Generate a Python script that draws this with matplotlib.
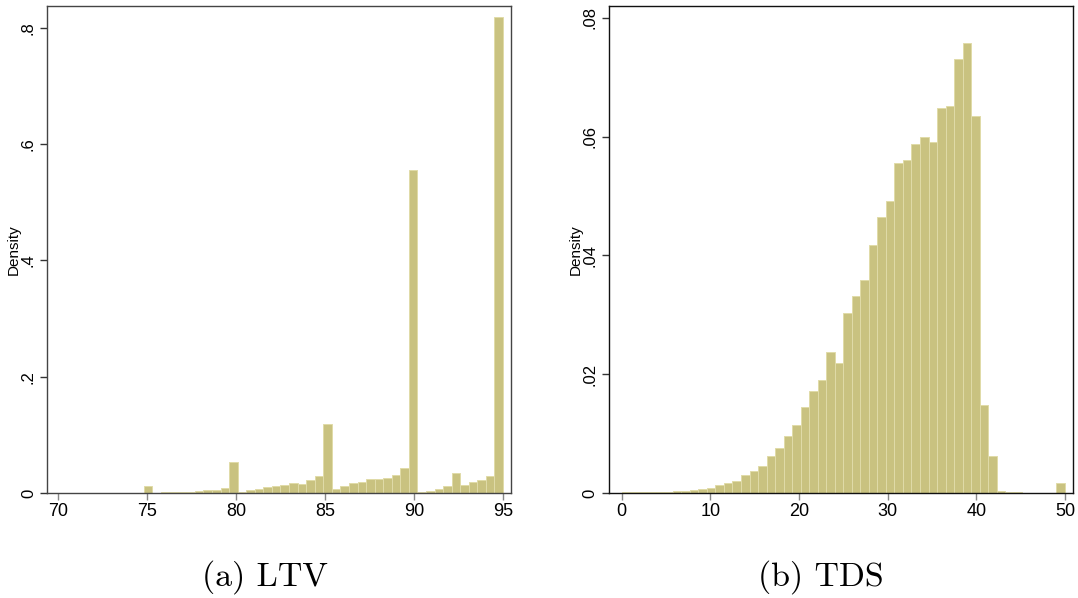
import numpy as np
import matplotlib
matplotlib.use('Agg')
import matplotlib.pyplot as plt
from matplotlib import font_manager

# LTV histogram: 52 bins from 70 to 95
ltv_range = (70, 95)
ltv_density = [0.0004, 0.0002, 0.0002, 0.0002, 0.0003, 0.0003, 0.0003, 0.0003, 0.0004, 0.0005,
               0.0115, 0.0006, 0.0009, 0.0012, 0.0018, 0.0025, 0.0040, 0.0052, 0.0054, 0.0086,
               0.0540, 0.0025, 0.0060, 0.0077, 0.0105, 0.0120, 0.0140, 0.0170, 0.0150, 0.0215,
               0.0290, 0.1180, 0.0069, 0.0126, 0.0172, 0.0195, 0.0241, 0.0235, 0.0258, 0.0315,
               0.0436, 0.5560, 0.0017, 0.0040, 0.0069, 0.0115, 0.0350, 0.0143, 0.0195, 0.0230,
               0.0292, 0.8190]
ltv_xticks = [70, 75, 80, 85, 90, 95]
ltv_yticks = [0, 0.2, 0.4, 0.6, 0.8]
ltv_ylabels = ['0', '.2', '.4', '.6', '.8']

# TDS histogram: 52 bins from 0 to 50
tds_range = (0, 50)
tds_density = [0.0001, 0.0001, 0.0001, 0.0001, 0.0002, 0.0002, 0.0003, 0.0004, 0.0005, 0.0007,
               0.0009, 0.0014, 0.0016, 0.0021, 0.0030, 0.0037, 0.0046, 0.0062, 0.0076, 0.0096,
               0.0114, 0.0144, 0.0171, 0.0190, 0.0237, 0.0219, 0.0303, 0.0332, 0.0359, 0.0417,
               0.0465, 0.0492, 0.0555, 0.0561, 0.0588, 0.0600, 0.0591, 0.0648, 0.0651, 0.0730,
               0.0757, 0.0634, 0.0148, 0.0062, 0.0004, 0.0002, 0.0001, 0.0, 0.0, 0.0,
               0.0, 0.0016]
tds_xticks = [0, 10, 20, 30, 40, 50]
tds_yticks = [0, 0.02, 0.04, 0.06, 0.08]
tds_ylabels = ['0', '.02', '.04', '.06', '.08']

names = {f.name for f in font_manager.fontManager.ttflist}
narrow = 'Liberation Sans Narrow' if 'Liberation Sans Narrow' in names else 'Liberation Sans'

fig = plt.figure(figsize=(10.78, 5.98), dpi=100)

panels = [
    ([0.0436, 0.1756, 0.4304, 0.8144], ltv_range, ltv_density, ltv_xticks, ltv_yticks, ltv_ylabels,
     (69.38, 95.45), 0.8378, '#444444', '(a) LTV', 0.246),
    ([0.5649, 0.1756, 0.4304, 0.8144], tds_range, tds_density, tds_xticks, tds_yticks, tds_ylabels,
     (-1.43, 50.9), 0.0820, '#111111', '(b) TDS', 0.761),
]

for rect, rng, dens, xt, yt, yl, xlim, ytop, frame, caption, cx in panels:
    ax = fig.add_axes(rect)
    edges = np.linspace(rng[0], rng[1], len(dens) + 1)
    ax.bar(edges[:-1], dens, width=np.diff(edges), align='edge',
           color='#c9c280', edgecolor='#e0dba8', linewidth=0.7)
    ax.set_xlim(*xlim)
    ax.set_ylim(0, ytop)
    ax.set_xticks(xt)
    ax.set_xticklabels([str(v) for v in xt], fontfamily=narrow, fontsize=13)
    ax.set_yticks(yt)
    ax.set_yticklabels(yl, rotation=90, va='center', fontfamily='Liberation Sans', fontsize=12)
    ax.tick_params(axis='x', direction='out', length=5, width=1, color='#888888', pad=2)
    ax.tick_params(axis='y', direction='out', length=5, width=1, color='#333333', pad=3)
    ax.set_ylabel('Density', fontfamily='Liberation Sans', fontsize=11, labelpad=0)
    for s in ax.spines.values():
        s.set_color(frame)
        s.set_linewidth(1.0)
    fig.text(cx, 0.035, caption, ha='center', va='center', fontfamily='cmr10', fontsize=24.5)

fig.savefig('out.png', dpi=100)
